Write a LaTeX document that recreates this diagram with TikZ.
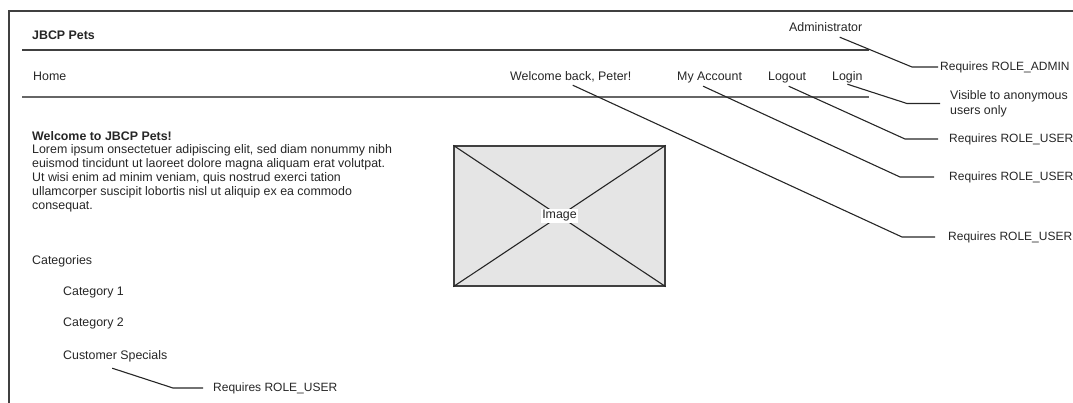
\documentclass[tikz,border=0pt]{standalone}
\usepackage{fontspec}
\setmainfont{Liberation Sans}
\begin{document}
\begin{tikzpicture}[x=1bp,y=-1bp,
  txt/.style={font=\fontsize{12.4bp}{13.8bp}\selectfont, text=black!85, inner sep=0pt},
  nav/.style={txt, anchor=west, text height=8.5bp, text depth=2.5bp},
  note/.style={txt, anchor=west, font=\fontsize{12bp}{13.7bp}\selectfont},
  conn/.style={draw=black!85, line width=1.1bp},
  frame/.style={draw=black!75, line width=1.4bp}]
\useasboundingbox (0,0) rectangle (1073,402);
\clip (0,0) rectangle (1073,402);
% page frame and header rules
\draw[frame] (9,405) -- (9,11) -- (1080,11);
\draw[frame] (22,50) -- (869,50);
\draw[frame, draw=black!60, line width=1.8bp] (22,97) -- (869,97);
% header
\node[nav, font=\fontsize{12.4bp}{13.8bp}\selectfont\bfseries] (brand) at (32,36) {JBCP Pets};
\node[nav] (admin) at (789,28) {Administrator};
\node[nav] (home) at (33,77) {Home};
\node[nav] (welcome) at (510,77) {Welcome back, Peter!};
\node[nav] (myacc) at (677,77) {My Account};
\node[nav] (logout) at (768,77) {Logout};
\node[nav] (login) at (832,77) {Login};
% body
\node[txt, anchor=north west, align=left] (intro) at (32,131)
  {\textbf{Welcome to JBCP Pets!}\\
   Lorem ipsum onsectetuer adipiscing elit, sed diam nonummy nibh\\
   euismod tincidunt ut laoreet dolore magna aliquam erat volutpat.\\
   Ut wisi enim ad minim veniam, quis nostrud exerci tation\\
   ullamcorper suscipit lobortis nisl ut aliquip ex ea commodo\\
   consequat.};
\node[nav] (cats) at (32,261) {Categories};
\node[nav] (cat1) at (63,292) {Category 1};
\node[nav] (cat2) at (63,323) {Category 2};
\node[nav] (custspec) at (63,356) {Customer Specials};
% image placeholder
\node[draw=black!75, line width=1.3bp, fill=black!10, minimum width=211bp,
      minimum height=140bp, inner sep=0pt] (img) at (559.5,216) {};
\draw[conn] (img.north west) -- (img.south east) (img.north east) -- (img.south west);
\node[txt, fill=white, inner sep=1.5bp] (imglabel) at (img.center) {Image};
% annotations
\node[note] (radmin) at (940,67) {Requires ROLE\_ADMIN};
\node[note, align=left, font=\fontsize{12.4bp}{15bp}\selectfont] (rlogin) at (950,103.5) {Visible to anonymous\\users only};
\node[note] (rlogout) at (949,139) {Requires ROLE\_USER};
\node[note] (rmyacc) at (949,177) {Requires ROLE\_USER};
\node[note] (rwelcome) at (948,237) {Requires ROLE\_USER};
\node[note] (rcust) at (213,388) {Requires ROLE\_USER};
% connectors
\draw[conn] ([xshift=14bp,yshift=-3.5bp]admin.south) -- ([xshift=-28bp]radmin.west) -- ([xshift=-2bp]radmin.west);
\draw[conn] ([yshift=-1.5bp]login.south) -- ([xshift=-43bp]rlogin.west) -- ([xshift=-10bp]rlogin.west);
\draw[conn] ([xshift=1.5bp,yshift=-3.5bp]logout.south) -- ([xshift=-44bp]rlogout.west) -- ([xshift=-11bp]rlogout.west);
\draw[conn] ([xshift=-6.5bp,yshift=-3.5bp]myacc.south) -- ([xshift=-49bp]rmyacc.west) -- ([xshift=-15bp]rmyacc.west);
\draw[conn] ([xshift=2bp,yshift=-2.5bp]welcome.south) -- ([xshift=-46bp]rwelcome.west) -- ([xshift=-13bp]rwelcome.west);
\draw[conn] ([xshift=-3bp,yshift=-6.5bp]custspec.south) -- ([xshift=-40bp]rcust.west) -- ([xshift=-10bp]rcust.west);
\end{tikzpicture}
\end{document}
